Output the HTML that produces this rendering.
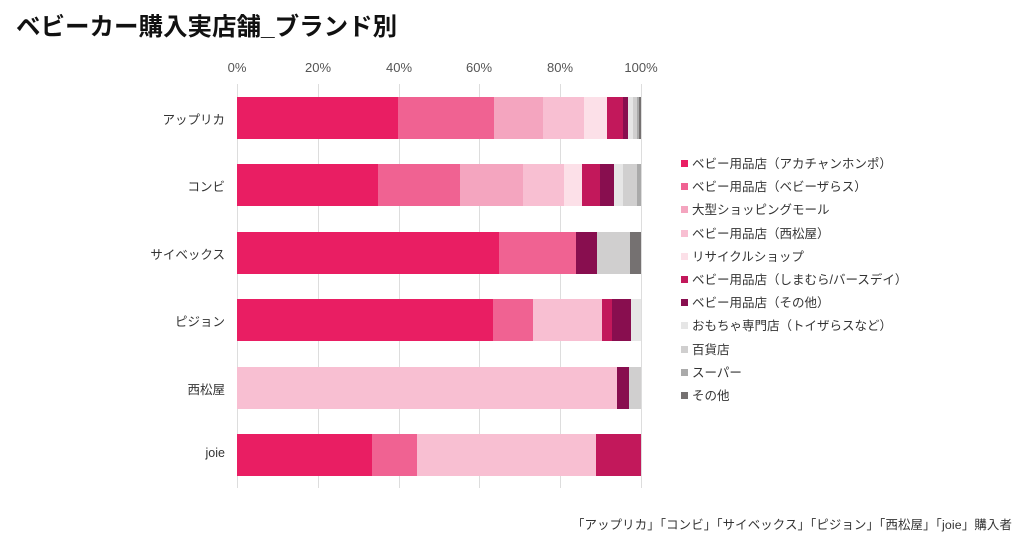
<!DOCTYPE html><html><head><meta charset="utf-8"><style>
body{margin:0;width:1024px;height:545px;background:#fff;position:relative;overflow:hidden;font-family:"Liberation Sans","Noto Sans CJK JP",sans-serif;color:#333}
.a{position:absolute}
.g{position:absolute;top:84px;height:404px;width:1px;background:#ddd}
.t{position:absolute;top:60px;font-size:13px;width:60px;text-align:center;color:#555}
.c{position:absolute;right:799px;font-size:12.5px;color:#333;white-space:nowrap}
.s{position:absolute;height:42px}
.l{position:absolute;left:681px;font-size:12.5px;white-space:nowrap;color:#333}
.l i{display:inline-block;width:7px;height:7px;margin-right:4px;vertical-align:1px}
</style></head><body>
<div class="a" style="left:16px;top:8px;font-size:24.5px;font-weight:bold;color:#111">ベビーカー購入実店舗_ブランド別</div>
<div class="g" style="left:237px"></div><div class="g" style="left:318px"></div><div class="g" style="left:399px"></div><div class="g" style="left:479px"></div><div class="g" style="left:560px"></div><div class="g" style="left:641px"></div>
<div class="t" style="left:207px">0%</div><div class="t" style="left:288px">20%</div><div class="t" style="left:369px">40%</div><div class="t" style="left:449px">60%</div><div class="t" style="left:530px">80%</div><div class="t" style="left:611px">100%</div>
<div class="c" style="top:109px">アップリカ</div>
<div class="c" style="top:176px">コンビ</div>
<div class="c" style="top:244px">サイベックス</div>
<div class="c" style="top:311px">ピジョン</div>
<div class="c" style="top:379px">西松屋</div>
<div class="c" style="top:446px">joie</div>
<div id="bars"></div>
<script>
var C=['#e91e63','#f06292','#f4a5bf','#f8bfd2','#fce0e8','#c2185b','#880e4f','#e6e6e6','#d0cfcf','#aaaaaa','#757171'];
var R=[[97,[[237,398,0],[398,494,1],[494,543,2],[543,584,3],[584,607,4],[607,623,5],[623,628,6],[628,633,7],[633,637,8],[637,639,9],[639,641,10]]],
[164,[[237,378,0],[378,460,1],[460,523,2],[523,564,3],[564,582,4],[582,600,5],[600,614,6],[614,623,7],[623,637,8],[637,641,9]]],
[232,[[237,499,0],[499,576,1],[576,597,6],[597,630,8],[630,641,10]]],
[299,[[237,493,0],[493,533,1],[533,602,3],[602,612,5],[612,631,6],[631,641,7]]],
[367,[[237,617,3],[617,629,6],[629,641,8]]],
[434,[[237,372,0],[372,417,1],[417,596,3],[596,641,5]]]];
var h='';R.forEach(function(r){r[1].forEach(function(s){h+='<div class="s" style="top:'+r[0]+'px;left:'+s[0]+'px;width:'+(s[1]-s[0])+'px;background:'+C[s[2]]+'"></div>'})});
var L=['ベビー用品店（アカチャンホンポ）','ベビー用品店（ベビーザらス）','大型ショッピングモール','ベビー用品店（西松屋）','リサイクルショップ','ベビー用品店（しまむら/バースデイ）','ベビー用品店（その他）','おもちゃ専門店（トイザらスなど）','百貨店','スーパー','その他'];
L.forEach(function(t,i){h+='<div class="l" style="top:'+(153+i*23.2)+'px"><i style="background:'+C[i]+'"></i>'+t+'</div>'});
document.getElementById('bars').innerHTML=h;
</script>
<div class="a" style="right:12px;top:515px;font-size:12.4px;color:#333;letter-spacing:0.15px">「アップリカ」「コンビ」「サイベックス」「ピジョン」「西松屋」「joie」購入者</div>
</body></html>
